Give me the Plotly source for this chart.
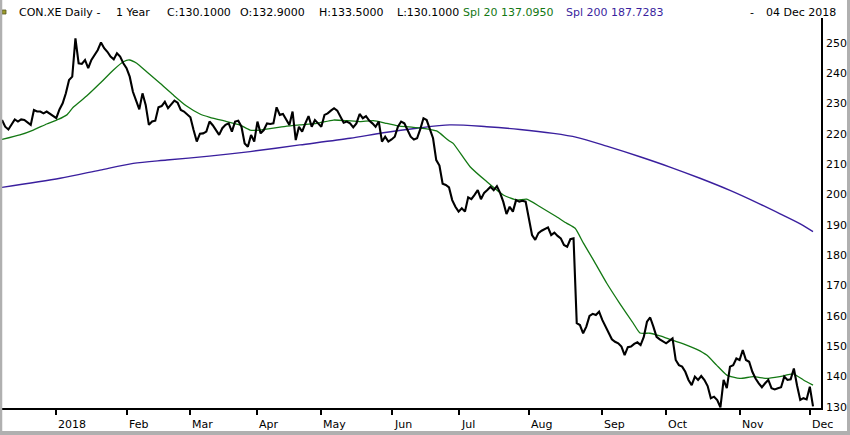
import pandas as pd
import plotly.graph_objects as go

# ---------------- data ----------------
holidays = ["2017-12-25", "2017-12-26", "2018-01-01", "2018-03-30", "2018-04-02", "2018-05-01"]
dates = [d for d in pd.bdate_range("2017-12-05", "2018-12-04")
         if d.strftime("%Y-%m-%d") not in holidays]
day = list(range(len(dates)))

close = [
    224.5, 222.3, 221.4, 223.0, 224.7, 224.0, 224.7, 224.5, 223.6, 222.9,
    227.8, 227.3, 227.3, 226.7, 227.3, 226.5, 225.8, 225.1, 228.0, 230.0,
    233.3, 237.7, 238.8, 251.4, 243.2, 243.0, 244.3, 241.6, 244.3, 245.9,
    247.6, 250.1, 248.2, 247.0, 245.4, 244.5, 246.5, 245.4, 243.2, 241.6,
    238.8, 233.8, 231.1, 228.0, 233.3, 229.5, 222.9, 224.0, 224.3, 228.7,
    229.1, 230.5, 228.4, 229.8, 230.9, 230.2, 227.8, 227.3, 226.5, 225.4,
    221.2, 217.4, 220.0, 220.1, 220.7, 224.0, 222.8, 221.2, 219.6, 221.8,
    222.9, 223.4, 220.7, 224.0, 224.3, 222.3, 216.8, 215.7, 219.6, 217.4,
    224.0, 220.1, 221.2, 223.4, 223.2, 223.4, 228.7, 226.2, 226.5, 224.7,
    222.9, 227.3, 217.9, 222.3, 220.7, 223.4, 225.8, 222.3, 224.5, 223.4,
    222.3, 226.2, 226.7, 227.6, 228.4, 227.6, 225.6, 223.6, 224.0, 223.4,
    222.1, 223.4, 226.5, 225.1, 225.8, 224.3, 223.4, 222.3, 224.0, 217.4,
    219.0, 217.4, 218.1, 219.0, 222.3, 224.0, 223.4, 221.2, 219.0, 218.1,
    218.5, 221.5, 225.1, 224.5, 221.2, 218.5, 211.3, 209.5, 203.5, 203.1,
    202.3, 198.1, 195.9, 194.3, 195.4, 194.3, 199.0, 198.4, 199.8, 201.4,
    198.4, 200.5, 201.4, 202.5, 201.4, 202.7, 200.5, 197.5, 193.5, 195.9,
    194.3, 198.1, 197.6, 197.9, 197.6, 191.5, 186.6, 185.0, 187.2, 188.0,
    188.5, 189.1, 186.6, 187.4, 186.3, 185.5, 183.3, 182.7, 185.2, 185.5,
    157.5, 156.9, 154.2, 156.4, 159.9, 160.6, 160.2, 161.3, 158.6, 156.4,
    154.7, 152.2, 151.4, 150.9, 149.8, 147.0, 149.6, 149.8, 150.7, 151.2,
    150.3, 153.0, 158.0, 159.4, 156.4, 153.0, 152.2, 151.4, 150.9, 151.7,
    152.5, 145.4, 143.7, 143.2, 141.5, 138.8, 137.1, 139.9, 138.8, 140.1,
    138.8, 136.8, 132.8, 133.3, 132.2, 129.8, 138.8, 136.1, 143.2, 143.7,
    145.9, 145.4, 148.7, 145.4, 144.8, 141.5, 139.3, 137.7, 136.4, 137.7,
    138.8, 136.1, 135.7, 136.1, 136.4, 139.9, 138.8, 139.0, 142.6, 137.0,
    132.2, 132.8, 132.4, 136.6, 130.1,
]

ma20_day = [0, 5.6, 9.8, 14, 17.6, 20.3, 22.3, 26.5, 30.7, 34.9, 38, 39.9, 42.2, 45.3,
            49.5, 53.6, 57.8, 62, 65.1, 70.4, 74.5, 77.7, 80.8, 85, 89.2, 93.3, 98.6,
            103.8, 108, 112.1, 116.3, 120.5, 124.6, 128.8, 133, 136.1, 137.2, 140.1,
            141.3, 146.6, 151.8, 157, 161.2, 164.3, 168.5, 173.7, 176.8, 179.5, 182.1,
            185.2, 189.4, 193.5, 197.7, 199.8, 202.9, 206.1, 209.2, 213.4, 217.6,
            220.7, 223.8, 227, 231.1, 235.3, 239.5, 243.6, 247.8, 251, 254]
ma20 = [218.1, 219.6, 221.2, 223.2, 224.7, 226.2, 228.7, 232.4, 236.6, 241.0, 243.7,
        244.3, 243.2, 240.4, 236.6, 232.8, 229.1, 226.5, 225.4, 224.0, 222.9, 221.2,
        221.2, 221.8, 222.5, 222.9, 223.4, 224.5, 224.3, 224.0, 224.3, 223.4, 222.5,
        222.1, 221.6, 220.9, 220.1, 217.6, 216.8, 209.1, 204.2, 199.8, 198.1, 198.4,
        195.9, 192.6, 190.5, 188.8, 183.9, 178.4, 170.7, 164.0, 157.5, 154.3, 154.2,
        153.3, 152.2, 150.7, 148.9, 147.0, 143.7, 140.4, 139.3, 139.9, 139.3, 139.9,
        140.8, 138.8, 137.095]

ma200_day = [0, 18.2, 30.7, 41.1, 51.6, 64.9, 77.7, 93.3, 109, 119.4, 129.9, 140.3,
             151.8, 162.2, 172.7, 180, 189.4, 199.8, 209.2, 218.6, 228, 237.4, 243.7,
             250, 254]
ma200 = [202.3, 205.3, 208.0, 210.2, 211.3, 212.6, 214.1, 216.3, 218.5, 220.3, 221.8,
         222.9, 222.3, 221.4, 220.1, 218.8, 215.9, 212.4, 209.0, 205.3, 201.3, 196.8,
         193.6, 190.3, 187.7283]

month_keys = ["2018-01", "2018-02", "2018-03", "2018-04", "2018-05", "2018-06",
              "2018-07", "2018-08", "2018-09", "2018-10", "2018-11", "2018-12"]
month_labels = ["2018", "Feb", "Mar", "Apr", "May", "Jun", "Jul", "Aug", "Sep",
                "Oct", "Nov", "Dec"]
y_ticks = [130, 140, 150, 160, 170, 180, 190, 200, 210, 220, 230, 240, 250]

# ---------------- figure ----------------
keys = [d.strftime("%Y-%m") for d in dates]
tick_days = [keys.index(m) for m in month_keys]

FONT = "DejaVu Sans"
FS = 11
GREEN = "#137813"
PURPLE = "#3a1f9e"

W, H = 850, 435
L, R, T, B = 2, 29, 18, 27
pw, ph = W - L - R, H - T - B


def px(x):
    return (x - L) / pw


def py(y):
    return (H - B - y) / ph


fig = go.Figure()
fig.add_trace(go.Scatter(x=ma200_day, y=ma200, mode="lines",
                         line=dict(color=PURPLE, width=1.4, shape="spline", smoothing=0.8),
                         hoverinfo="skip"))
fig.add_trace(go.Scatter(x=ma20_day, y=ma20, mode="lines",
                         line=dict(color=GREEN, width=1.3, shape="spline", smoothing=0.5),
                         hoverinfo="skip"))
fig.add_trace(go.Scatter(x=day, y=close, mode="lines",
                         line=dict(color="#000000", width=2.1)))

annotations = []
for d, lab in zip(tick_days, month_labels):
    annotations.append(dict(x=d, y=py(424), xref="x", yref="paper", text=lab,
                            showarrow=False, xanchor="left", yanchor="middle",
                            xshift=0, font=dict(family=FONT, size=FS, color="#000")))

header = [
    ("CON.XE Daily -", 18, "#000"),
    ("1 Year", 115, "#000"),
    ("C:130.1000", 165.5, "#000"),
    ("O:132.9000", 239, "#000"),
    ("H:133.5000", 317.5, "#000"),
    ("L:130.1000", 395.5, "#000"),
    ("Spl 20 137.0950", 461.5, GREEN),
    ("Spl 200 187.7283", 565, PURPLE),
    ("-", 749, "#000"),
    ("04 Dec 2018", 765, "#000"),
]
for text, x0, col in header:
    annotations.append(dict(x=px(x0), y=py(12), xref="paper", yref="paper", text=text,
                            showarrow=False, xanchor="left", yanchor="middle", xshift=-1,
                            font=dict(family=FONT, size=FS, color=col)))

shapes = [
    dict(type="rect", xref="paper", yref="paper", x0=px(2), x1=px(6), y0=py(14), y1=py(10),
         fillcolor="#9a9a2a", line=dict(color="#555522", width=0.8)),
    dict(type="line", xref="paper", yref="paper", x0=px(1), x1=px(1), y0=py(435), y1=py(0),
         line=dict(color="#b0b0b0", width=2.5)),
    dict(type="line", xref="paper", yref="paper", x0=px(848.5), x1=px(848.5), y0=py(435), y1=py(0),
         line=dict(color="#b0b0b0", width=3)),
    dict(type="line", xref="paper", yref="paper", x0=px(0), x1=px(850), y0=py(433), y1=py(433),
         line=dict(color="#b0b0b0", width=4)),
]

fig.update_layout(
    width=W, height=H,
    margin=dict(l=L, r=R, t=T, b=B, pad=0, autoexpand=False),
    paper_bgcolor="white", plot_bgcolor="white",
    showlegend=False,
    annotations=annotations,
    shapes=shapes,
    font=dict(family=FONT, size=FS, color="#000"),
    xaxis=dict(range=[0, 256.5], showgrid=False, zeroline=False, automargin=False,
               showline=True, linecolor="#000", linewidth=2,
               ticks="outside", tickvals=tick_days, ticklen=5, tickwidth=1.6,
               tickcolor="#000", showticklabels=False, fixedrange=True),
    yaxis=dict(range=[129.56, 258.14], side="right", showgrid=False, zeroline=False,
               automargin=False,
               showline=True, linecolor="#000", linewidth=1.6, mirror=False,
               tickvals=y_ticks, ticks="", ticklabelstandoff=1,
               tickfont=dict(family=FONT, size=FS, color="#000"), fixedrange=True),
)

fig.write_html("out.html", config={"displayModeBar": False},
               post_script="document.body.style.margin='0px';")
